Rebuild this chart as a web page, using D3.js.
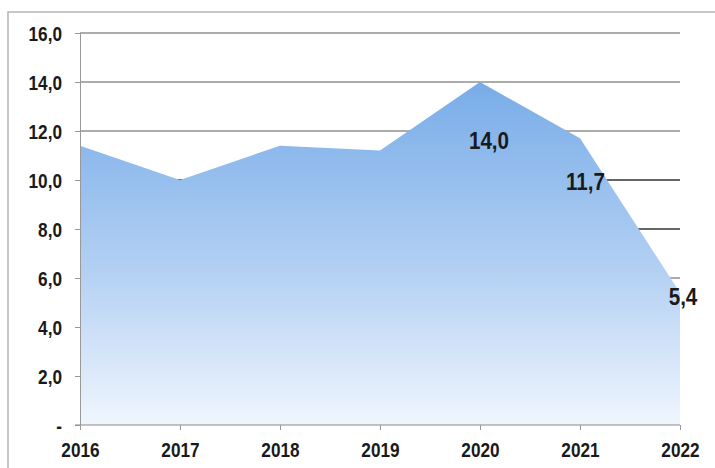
<!DOCTYPE html>
<html>
<head>
<meta charset="utf-8">
<script src="https://cdn.jsdelivr.net/npm/d3@7"></script>
<style>
  body { margin: 0; background: #fff; }
  text { font-family: "Liberation Sans", Arial, sans-serif; font-weight: bold; fill: #1a1a1a; }
</style>
</head>
<body>
<svg width="715" height="468"></svg>
<script>
// data
let years = [2016, 2017, 2018, 2019, 2020, 2021, 2022];
let values = [11.4, 10.0, 11.4, 11.2, 14.0, 11.7, 5.4];
let yTicks = [0, 2, 4, 6, 8, 10, 12, 14, 16];
let labelled = [2020, 2021, 2022];

var svg = d3.select("svg");
let margin = { left: 80, right: 35, top: 33, bottom: 43 };
let width = 715, height = 468;
let narrow = 0.82; // squeeze text to look like a narrow face

let x = d3.scaleLinear()
    .domain([2016, 2022])
    .range([margin.left, width - margin.right]);
let y = d3.scaleLinear()
    .domain([0, 16])
    .range([height - margin.bottom, margin.top]);

let numberFormat = v => v === 0 ? "-" : d3.format(".1f")(v).replace(".", ",");

// outer frame (only top and left edge visible)
svg.append("path")
    .attr("d", "M8,468 L8,12 L715,12")
    .attr("fill", "none")
    .attr("stroke", "#b5b5b5")
    .attr("stroke-width", 1.5);

// gradient for the area
let grad = svg.append("defs").append("linearGradient")
    .attr("id", "fillGrad")
    .attr("x1", 0).attr("x2", 0)
    .attr("gradientUnits", "userSpaceOnUse")
    .attr("y1", y(14)).attr("y2", y(0));
grad.append("stop").attr("offset", "0%").attr("stop-color", "#78ace8");
grad.append("stop").attr("offset", "55%").attr("stop-color", "#b3d0f3");
grad.append("stop").attr("offset", "100%").attr("stop-color", "#f0f6fd");

// gridlines behind the area
svg.append("g")
    .selectAll("line")
    .data(yTicks.filter(d => d > 0))
    .enter()
    .append("line")
    .attr("x1", x(2016)).attr("x2", x(2022))
    .attr("y1", d => y(d)).attr("y2", d => y(d))
    .attr("stroke", d => d <= 10 && d >= 8 ? "#333" : "#909090")
    .attr("stroke-width", 1.3);

let data = years.map((yr, i) => ({ year: yr, value: values[i] }));

let area = d3.area()
    .x(d => x(d.year))
    .y0(y(0))
    .y1(d => y(d.value));

svg.append("path")
    .datum(data)
    .attr("d", area)
    .attr("fill", "url(#fillGrad)");

// y axis
let yAxis = d3.axisLeft(y)
    .tickValues(yTicks)
    .tickSize(5)
    .tickFormat(numberFormat);
let gy = svg.append("g")
    .attr("transform", `translate(${margin.left},0)`)
    .call(yAxis);
gy.select(".domain").attr("stroke", "#999");
gy.selectAll(".tick line").attr("stroke", "#999");
gy.selectAll(".tick text")
    .attr("x", -18 / narrow)
    .attr("dy", "0.36em")
    .attr("transform", `scale(${narrow},1)`)
    .style("font-size", "21px");

// x axis
let xAxis = d3.axisBottom(x)
    .tickValues(years)
    .tickSize(5)
    .tickFormat(d3.format("d"));
let gx = svg.append("g")
    .attr("transform", `translate(0,${y(0)})`)
    .call(xAxis);
gx.select(".domain").attr("stroke", "#888").attr("d", `M${margin.left - 5},0H${x(2022)}`);
gx.selectAll(".tick line").attr("stroke", "#999");
gx.selectAll(".tick text")
    .attr("y", 17)
    .attr("transform", `scale(${narrow},1)`)
    .style("font-size", "21px");

// data labels
let labelPos = {
    2020: { dx: 9, dy: 67, anchor: "middle" },
    2021: { dx: 25, dy: 52, anchor: "end" },
    2022: { dx: 3, dy: 12, anchor: "middle" }
};
svg.append("g")
    .selectAll("text")
    .data(data.filter(d => labelled.includes(d.year)))
    .enter()
    .append("text")
    .attr("transform", d => `translate(${x(d.year) + labelPos[d.year].dx},${y(d.value) + labelPos[d.year].dy}) scale(0.86,1)`)
    .attr("text-anchor", d => labelPos[d.year].anchor)
    .style("font-size", "24px")
    .text(d => numberFormat(d.value));
</script>
</body>
</html>
